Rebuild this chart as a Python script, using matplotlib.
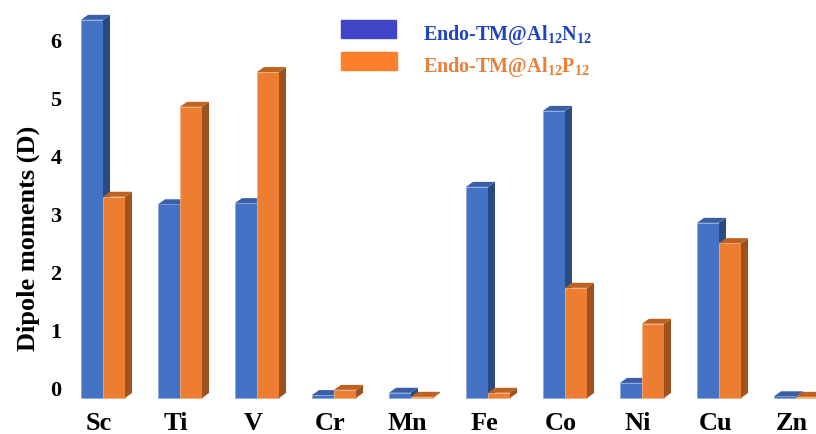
import matplotlib
matplotlib.use("Agg")
import matplotlib.pyplot as plt
from matplotlib.patches import Polygon, Rectangle
from matplotlib.transforms import ScaledTranslation

plt.rcParams['font.family'] = ['Liberation Serif', 'DejaVu Serif']
plt.rcParams['font.weight'] = 'bold'
plt.rcParams['mathtext.fontset'] = 'custom'
plt.rcParams['mathtext.rm'] = 'Liberation Serif:bold'
plt.rcParams['mathtext.bf'] = 'Liberation Serif:bold'
plt.rcParams['mathtext.default'] = 'rm'

# data
metals = ['Sc', 'Ti', 'V', 'Cr', 'Mn', 'Fe', 'Co', 'Ni', 'Cu', 'Zn']
al12n12 = [6.52, 3.34, 3.36, 0.05, 0.09, 3.64, 4.95, 0.26, 3.02, 0.03]
al12p12 = [3.47, 5.02, 5.62, 0.14, 0.02, 0.09, 1.90, 1.28, 2.67, 0.02]
yticks = [0, 1, 2, 3, 4, 5, 6]

# front, side, top colours for the fake 3D look
blue = ('#4472C4', '#2C4A82', '#3A5FA6', '#8FAADC')
orange = ('#ED7D31', '#9E521D', '#BF611F', '#F4B183')

fig = plt.figure(figsize=(8.16, 4.34), dpi=100)
ax = fig.add_axes([70 / 816, 29 / 434, 746 / 816, 405 / 434])

w = 22 / 77
dx = 7 / 77      # depth in data units (x)
dy = 5 / 58      # depth in data units (y)


def bar3d(x0, h, cols, z):
    front, side, top, edge = cols
    ax.bar(x0, h, width=w, align='edge', color=front, edgecolor=edge,
           linewidth=0.6, zorder=z, clip_on=False)
    ax.add_patch(Polygon([(x0 + w, 0), (x0 + w + dx, dy), (x0 + w + dx, h + dy),
                          (x0 + w, h)], closed=True, facecolor=side,
                         edgecolor='none', zorder=z, clip_on=False))
    ax.add_patch(Polygon([(x0, h), (x0 + dx, h + dy), (x0 + w + dx, h + dy),
                          (x0 + w, h)], closed=True, facecolor=top,
                         edgecolor='none', zorder=z, clip_on=False))


for i in range(len(metals)):
    bar3d(i - w, al12n12[i], blue, 2 + i * 0.01)
    bar3d(i, al12p12[i], orange, 3 + i * 0.01)

ax.set_xlim(-33 / 77, 746 / 77 - 33 / 77)
ax.set_ylim(-7 / 58, 398 / 58)

ax.set_xticks([i - 0.05 for i in range(len(metals))])
ax.set_xticklabels(metals, fontsize=19, fontweight='bold')
ax.set_yticks(yticks)
ax.set_yticklabels([str(t) for t in yticks], fontsize=16, fontweight='bold')
ax.tick_params(length=0)
ax.tick_params(axis='y', pad=6)
ax.tick_params(axis='x', pad=5)
for lab in ax.get_yticklabels():
    lab.set_transform(lab.get_transform() + ScaledTranslation(0, 10 / 100, fig.dpi_scale_trans))
for s in ax.spines.values():
    s.set_visible(False)

fig.text(28 / 816, 1 - 238 / 434, 'Dipole moments (D)', rotation=90,
         ha='center', va='center', fontsize=19, fontweight='bold')

# legend drawn by hand
fig.patches.append(Rectangle((341 / 816, 1 - 38 / 434), 55 / 816, 18 / 434,
                             transform=fig.transFigure, color='#3F45C6'))
fig.patches.append(Rectangle((341 / 816, 1 - 70 / 434), 56 / 816, 18 / 434,
                             transform=fig.transFigure, color='#FD7F2C'))
fig.text(423 / 816, 1 - 40 / 434, r'Endo-TM@Al$_{12}$N$_{12}$', color='#1F44C0',
         fontsize=14.5, fontweight='bold', va='baseline')
fig.text(423 / 816, 1 - 72 / 434, r'Endo-TM@Al$_{12}$P$_{12}$', color='#E8803A',
         fontsize=14.5, fontweight='bold', va='baseline')

fig.savefig('out.png', dpi=100)
